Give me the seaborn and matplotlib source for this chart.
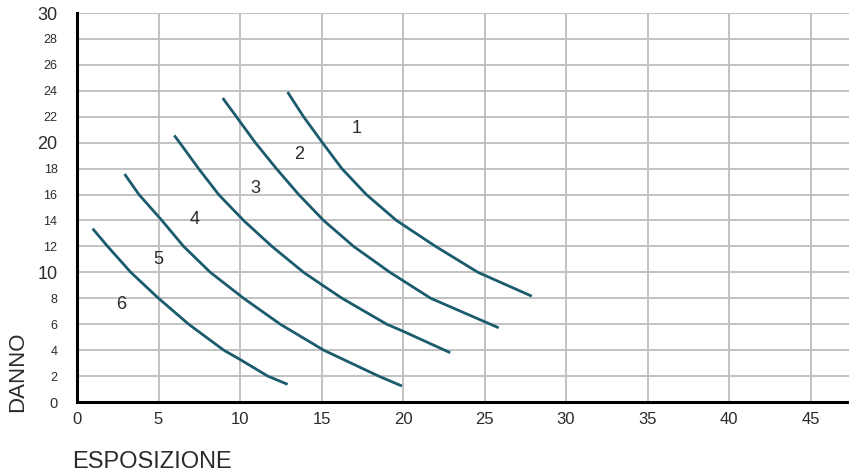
import matplotlib
matplotlib.use('Agg')
import matplotlib.pyplot as plt
import seaborn as sns
import pandas as pd

# --- Data (ESPOSIZIONE, DANNO) ---
curve_a_x = [12.92, 13.9, 15.0, 16.25, 17.75, 19.6, 22.0, 24.6, 27.9]
curve_a_y = [23.9, 22.0, 20.1, 18.0, 16.0, 14.0, 12.0, 10.0, 8.16]

curve_b_x = [8.94, 9.78, 10.94, 12.23, 13.6, 15.13, 16.97, 19.2, 21.7, 25.36, 25.87]
curve_b_y = [23.44, 22.0, 20.0, 18.0, 16.0, 14.0, 12.0, 10.0, 8.0, 6.0, 5.72]

curve_c_x = [5.97, 6.3, 7.46, 8.69, 10.22, 11.96, 13.9, 15.0, 16.26, 19.0, 20.0, 22.9]
curve_c_y = [20.56, 20.0, 18.0, 16.0, 14.0, 12.0, 10.0, 9.06, 8.0, 6.0, 5.46, 3.8]

curve_d_x = [2.92, 3.8, 5.21, 6.54, 8.18, 10.22, 12.47, 15.13, 18.5, 19.94]
curve_d_y = [17.58, 16.0, 14.0, 12.0, 10.0, 8.0, 6.0, 4.0, 2.0, 1.23]

curve_e_x = [0.96, 1.88, 3.3, 5.0, 6.85, 9.0, 10.0, 11.7, 12.92]
curve_e_y = [13.37, 12.0, 10.0, 8.0, 6.0, 4.0, 3.28, 2.0, 1.36]

zone_labels = ['1', '2', '3', '4', '5', '6']
zone_x = [17.18, 13.6, 10.94, 7.2, 5.01, 2.72]
zone_y = [21.12, 19.07, 16.5, 14.06, 10.98, 7.52]

x_ticks = [0, 5, 10, 15, 20, 25, 30, 35, 40, 45]
y_ticks = list(range(0, 32, 2))

# --- Build long table for seaborn ---
curves = {
    'A': (curve_a_x, curve_a_y),
    'B': (curve_b_x, curve_b_y),
    'C': (curve_c_x, curve_c_y),
    'D': (curve_d_x, curve_d_y),
    'E': (curve_e_x, curve_e_y),
}
rows = []
for name, (xs, ys) in curves.items():
    for xv, yv in zip(xs, ys):
        rows.append({'curve': name, 'x': xv, 'y': yv})
df = pd.DataFrame(rows)

LINE_COLOR = '#1b5b6e'
GRID_COLOR = '#c2c2c2'
TEXT_COLOR = '#2b2b2b'

sns.set_theme(style="whitegrid")
plt.rcParams['font.family'] = ['Liberation Sans', 'DejaVu Sans']

fig = plt.figure(figsize=(8.49, 4.74), dpi=100)
ax = fig.add_axes([77 / 849, 72 / 474, 1 - 77 / 849, 389 / 474])

sns.lineplot(data=df, x='x', y='y', hue='curve', units='curve', estimator=None,
             sort=False, palette=[LINE_COLOR] * 5, linewidth=2.0, legend=False, ax=ax)
for line in ax.get_lines():
    line.set_solid_joinstyle('round')
    line.set_solid_capstyle('butt')

for lbl, xv, yv in zip(zone_labels, zone_x, zone_y):
    ax.text(xv, yv, lbl, fontsize=13, color=TEXT_COLOR, ha='center', va='center')

ax.set_xlim(0, (849 - 77) / 16.3)
ax.set_ylim(0, 30)
ax.set_xticks(x_ticks)
ax.set_yticks(y_ticks)
ax.set_xticklabels([str(t) for t in x_ticks], fontsize=12, color=TEXT_COLOR)
ax.set_yticklabels([str(t) for t in y_ticks], color=TEXT_COLOR)
for t, lab in zip(y_ticks, ax.get_yticklabels()):
    lab.set_fontsize(13 if t in (10, 20, 30) else (10.5 if t == 0 else 9))
ax.tick_params(axis='y', length=0, pad=14)
ax.tick_params(axis='x', length=0, pad=7)

ax.grid(True, color=GRID_COLOR, linewidth=1.4)
ax.set_axisbelow(True)
ax.set_facecolor('white')
for side in ['top', 'right']:
    ax.spines[side].set_visible(False)
for side in ['left', 'bottom']:
    ax.spines[side].set_color('black')
    ax.spines[side].set_linewidth(2.2)
ax.set_xlabel('')
ax.set_ylabel('')

fig.text(18 / 849, 1 - 372 / 474, 'DANNO', rotation=90, fontsize=16,
         color=TEXT_COLOR, ha='center', va='center')
fig.text(72 / 849, 1 - 462 / 474, 'ESPOSIZIONE', fontsize=17,
         color=TEXT_COLOR, ha='left', va='center')

fig.savefig('out.png', dpi=100)
